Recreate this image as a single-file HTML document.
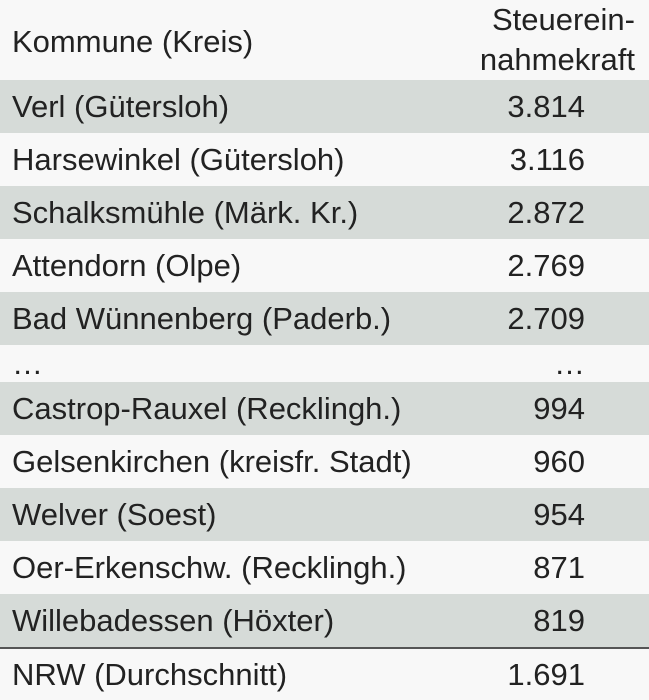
<!DOCTYPE html>
<html><head><meta charset="utf-8"><style>
body{margin:0;width:649px;height:700px;background:#f8f8f8;font-family:"Liberation Sans",sans-serif;color:#222;overflow:hidden}
.r{position:absolute;left:0;width:649px;display:flex;align-items:center;font-size:31px}
.r .n{position:absolute;left:12px}
.r .v{position:absolute;right:64px}
.s{background:#d6dbd8}
</style></head><body>
<div style="position:relative;width:649px;height:700px">
<div style="position:absolute;left:12px;top:24px;font-size:31px">Kommune (Kreis)</div>
<div style="position:absolute;right:14px;top:0px;font-size:31px;text-align:right;line-height:40px">Steuerein-<br>nahmekraft</div>
<div id="rows"></div>
</div>
<script>
const names=["Verl (Gütersloh)","Harsewinkel (Gütersloh)","Schalksmühle (Märk. Kr.)","Attendorn (Olpe)","Bad Wünnenberg (Paderb.)","…","Castrop-Rauxel (Recklingh.)","Gelsenkirchen (kreisfr. Stadt)","Welver (Soest)","Oer-Erkenschw. (Recklingh.)","Willebadessen (Höxter)","NRW (Durchschnitt)"];
const values=["3.814","3.116","2.872","2.769","2.709","…","994","960","954","871","819","1.691"];
const shaded=[1,0,1,0,1,0,1,0,1,0,1,0];
const c=document.getElementById('rows');
let y=80;
names.forEach((n,i)=>{
  const h=n==="…"?37:53;
  const d=document.createElement('div');
  
  
  d.className='r'+(shaded[i]?' s':'');
  d.style.top=y+'px';d.style.height=h+'px';
  if(i===names.length-1){d.style.borderTop='2px solid #555';d.style.boxSizing='border-box';}
  const a=document.createElement('span');
  
  
  a.className='n';a.textContent=n;
  const b=document.createElement('span');
  
  
  b.className='v';b.textContent=values[i];
  d.appendChild(a);d.appendChild(b);c.appendChild(d);
  y+=h;
});
</script>
</body></html>
